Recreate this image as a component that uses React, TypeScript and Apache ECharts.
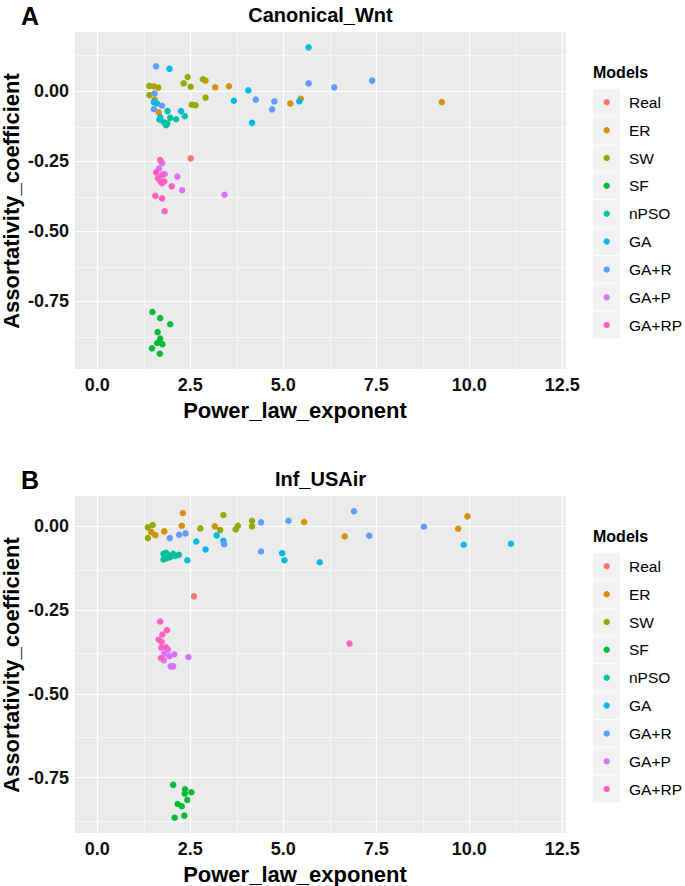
import React, { useEffect, useRef } from "react";
import * as echarts from "echarts";

const MODELS = ["Real", "ER", "SW", "SF", "nPSO", "GA", "GA+R", "GA+P", "GA+RP"];
const COLORS = ["#F8766D", "#D39200", "#93AA00", "#00BA38", "#00C19F", "#00B9E3", "#619CFF", "#DB72FB", "#FF61C3"];

const X_TICKS = [0, 2.5, 5, 7.5, 10, 12.5];
const X_MINOR = [1.25, 3.75, 6.25, 8.75, 11.25];
const Y_TICKS = [-0.75, -0.5, -0.25, 0];
const Y_MINOR_A = [-0.875, -0.625, -0.375, -0.125, 0.125];
const Y_MINOR_B = [-0.875, -0.625, -0.375, -0.125];
const X_LIMITS = [0, 12];

// Panel A: Canonical_Wnt
const wntReal = [[2.51, -0.24]];
const wntER = [[2.91, 0.038], [3.17, 0.014], [3.54, 0.018], [1.52, 0.018], [1.54, -0.03], [1.65, -0.075], [5.19, -0.044], [5.47, -0.027], [9.26, -0.039]];
const wntSW = [[2.43, 0.051], [2.32, 0.028], [2.51, 0.016], [2.84, 0.043], [1.4, 0.019], [1.64, 0.013], [1.4, -0.014], [2.54, -0.048], [2.64, -0.05], [2.91, -0.023]];
const wntSF = [[1.48, -0.789], [1.69, -0.811], [1.96, -0.833], [1.62, -0.861], [1.69, -0.884], [1.61, -0.9], [1.75, -0.904], [1.47, -0.919], [1.68, -0.938]];
const wntNPSO = [[1.89, -0.071], [1.67, -0.101], [1.79, -0.111], [1.85, -0.121], [1.88, -0.115], [1.96, -0.095], [2.12, -0.1], [2.35, -0.089]];
const wntGA = [[5.68, 0.157], [1.94, 0.08], [4.06, 0.003], [1.52, -0.039], [1.61, -0.044], [1.69, -0.093], [2.25, -0.071], [3.67, -0.034], [4.16, -0.113], [5.43, -0.036]];
const wntGAR = [[1.58, 0.089], [5.68, 0.028], [6.37, 0.014], [7.39, 0.038], [1.54, -0.008], [1.74, -0.052], [1.52, -0.064], [4.26, -0.03], [4.76, -0.036], [4.7, -0.065]];
const wntGAP = [[1.74, -0.257], [1.66, -0.276], [1.81, -0.296], [2.15, -0.305], [2.28, -0.354], [3.42, -0.37]];
const wntGARP = [[1.69, -0.246], [1.58, -0.29], [1.74, -0.299], [1.63, -0.311], [1.7, -0.322], [1.8, -0.322], [1.74, -0.329], [2.0, -0.34], [1.56, -0.374], [1.74, -0.383], [1.81, -0.429]];

// Panel B: Inf_USAir
const airReal = [[2.6, -0.209]];
const airER = [[2.3, 0.04], [1.45, -0.017], [1.56, -0.026], [1.8, -0.015], [2.27, 0.002], [3.16, 0.0], [5.56, 0.013], [6.65, -0.03], [9.7, -0.007], [9.95, 0.03]];
const airSW = [[3.39, 0.034], [1.36, -0.003], [1.49, 0.004], [1.36, -0.035], [2.77, -0.006], [3.3, -0.011], [3.72, -0.009], [3.78, 0.002], [4.16, 0.017], [4.16, 0.0]];
const airSF = [[2.04, -0.772], [2.36, -0.785], [2.35, -0.798], [2.53, -0.794], [2.42, -0.817], [2.16, -0.829], [2.27, -0.836], [2.34, -0.864], [2.08, -0.87]];
const airNPSO = [[1.78, -0.082], [1.85, -0.079], [1.91, -0.087], [1.78, -0.099], [1.87, -0.095], [1.95, -0.092], [2.04, -0.082], [2.19, -0.085], [2.09, -0.088], [1.82, -0.092]];
const airGA = [[3.21, -0.027], [3.39, -0.043], [2.66, -0.045], [2.91, -0.069], [2.42, -0.101], [4.97, -0.08], [5.03, -0.101], [5.98, -0.107], [9.85, -0.055], [11.12, -0.052]];
const airGAR = [[6.9, 0.045], [1.95, -0.035], [2.2, -0.025], [2.37, -0.021], [3.41, -0.053], [4.4, 0.012], [4.4, -0.075], [5.14, 0.017], [7.31, -0.028], [8.78, -0.001]];
const airGAP = [[1.9, -0.368], [1.8, -0.38], [1.94, -0.388], [2.07, -0.382], [1.79, -0.4], [2.45, -0.39], [1.97, -0.418], [2.04, -0.418]];
const airGARP = [[1.69, -0.284], [1.87, -0.31], [1.75, -0.323], [1.65, -0.338], [1.73, -0.345], [1.72, -0.362], [1.85, -0.361], [1.71, -0.393], [6.78, -0.35]];

const PANEL_A = [wntReal, wntER, wntSW, wntSF, wntNPSO, wntGA, wntGAR, wntGAP, wntGARP];
const PANEL_B = [airReal, airER, airSW, airSF, airNPSO, airGA, airGAR, airGAP, airGARP];

const FONT = "'Liberation Sans', Arial, Helvetica, sans-serif";

function expand(lo: number, hi: number) {
  const d = (hi - lo) * 0.05;
  return [lo - d, hi + d];
}
function yRange(panel: number[][][]) {
  const ys = panel.flat().map((p) => p[1]);
  return expand(Math.min(...ys), Math.max(...ys));
}

export default function App() {
  const ref = useRef<HTMLDivElement>(null);
  useEffect(() => {
    if (!ref.current) return;
    const chart = echarts.init(ref.current, null, { renderer: "svg" });
    const xr = expand(X_LIMITS[0], X_LIMITS[1]);
    const yA = yRange(PANEL_A);
    const yB = yRange(PANEL_B);

    const grids = [
      { left: 75, top: 32, width: 491, height: 337 },
      { left: 75, top: 496, width: 491, height: 337 },
    ].map((g) => ({ ...g, show: true, backgroundColor: "#EBEBEB", borderWidth: 0 }));

    const mkX = (gi: number) => ({
      type: "value",
      gridIndex: gi,
      min: xr[0],
      max: xr[1],
      axisLine: { show: false },
      splitLine: { show: false },
      axisTick: { show: true, customValues: X_TICKS, length: 4, lineStyle: { color: "#333", width: 1 } },
      axisLabel: {
        customValues: X_TICKS,
        formatter: (v: number) => v.toFixed(1),
        fontFamily: FONT,
        fontWeight: "bold",
        fontSize: 18,
        color: "#111",
        margin: 7,
      },
    });
    const mkY = (gi: number, r: number[]) => ({
      type: "value",
      gridIndex: gi,
      min: r[0],
      max: r[1],
      axisLine: { show: false },
      splitLine: { show: false },
      axisTick: { show: true, customValues: Y_TICKS, length: 4, lineStyle: { color: "#333", width: 1 } },
      axisLabel: {
        customValues: Y_TICKS,
        formatter: (v: number) => v.toFixed(2),
        fontFamily: FONT,
        fontWeight: "bold",
        fontSize: 18,
        color: "#111",
        margin: 6,
      },
    });

    const gridSeries = (gi: number, yMinor: number[]) => ({
      type: "scatter",
      name: "_grid" + gi,
      xAxisIndex: gi,
      yAxisIndex: gi,
      data: [],
      z: 1,
      zlevel: 0,
      silent: true,
      markLine: {
        silent: true,
        z: 1,
        symbol: ["none", "none"],
        label: { show: false },
        animation: false,
        data: [
          ...X_MINOR.map((v) => ({ xAxis: v, lineStyle: { color: "#fff", width: 0.6, type: "solid" } })),
          ...yMinor.map((v) => ({ yAxis: v, lineStyle: { color: "#fff", width: 0.6, type: "solid" } })),
          ...X_TICKS.map((v) => ({ xAxis: v, lineStyle: { color: "#fff", width: 1.2, type: "solid" } })),
          ...Y_TICKS.map((v) => ({ yAxis: v, lineStyle: { color: "#fff", width: 1.2, type: "solid" } })),
        ],
      },
    });

    const dataSeries = (panel: number[][][], gi: number) =>
      panel.map((d, i) => ({
        type: "scatter",
        name: MODELS[i],
        xAxisIndex: gi,
        yAxisIndex: gi,
        data: d,
        symbolSize: 6.5,
        z: 10,
        itemStyle: { color: COLORS[i], opacity: 1 },
      }));

    const legend = (dy: number) => {
      const els: any[] = [
        {
          type: "text",
          left: 593,
          top: 73 + dy - 9,
          style: { text: "Models", font: `bold 16px ${FONT}`, fill: "#000" },
        },
      ];
      MODELS.forEach((m, i) => {
        const cy = 102.3 + i * 27.85 + dy;
        els.push({ type: "rect", shape: { x: 593, y: cy - 13.5, width: 27, height: 27 }, style: { fill: "#F2F2F2" } });
        els.push({ type: "circle", shape: { cx: 606.7, cy, r: 3.2 }, style: { fill: COLORS[i] } });
        els.push({
          type: "text",
          x: 629,
          y: cy,
          style: { text: m, font: `15.5px ${FONT}`, fill: "#000", textVerticalAlign: "middle", verticalAlign: "middle" },
        });
      });
      return els;
    };

    const texts = (dy: number, letter: string, title: string) => [
      { type: "text", x: 30, y: 16 + dy, style: { text: letter, font: `bold 25px ${FONT}`, fill: "#000", align: "center", verticalAlign: "middle" } },
      { type: "text", x: 320.5, y: 15 + dy, style: { text: title, font: `bold 20px ${FONT}`, fill: "#000", align: "center", verticalAlign: "middle" } },
      { type: "text", x: 295, y: 410 + dy, style: { text: "Power_law_exponent", font: `bold 22px ${FONT}`, fill: "#000", align: "center", verticalAlign: "middle" } },
      {
        type: "text",
        x: 11,
        y: 201 + dy,
        rotation: Math.PI / 2,
        style: { text: "Assortativity_coefficient", font: `bold 22px ${FONT}`, fill: "#000", align: "center", verticalAlign: "middle" },
      },
    ];

    chart.setOption({
      animation: false,
      backgroundColor: "#fff",
      grid: grids,
      xAxis: [mkX(0), mkX(1)],
      yAxis: [mkY(0, yA), mkY(1, yB)],
      series: [gridSeries(0, Y_MINOR_A), gridSeries(1, Y_MINOR_B), ...dataSeries(PANEL_A, 0), ...dataSeries(PANEL_B, 1)],
      graphic: [...texts(0, "A", "Canonical_Wnt"), ...texts(464, "B", "Inf_USAir"), ...legend(0), ...legend(464)],
    });
    return () => chart.dispose();
  }, []);
  return <div ref={ref} style={{ position: "fixed", left: 0, top: 0, width: 685, height: 886 }} />;
}
